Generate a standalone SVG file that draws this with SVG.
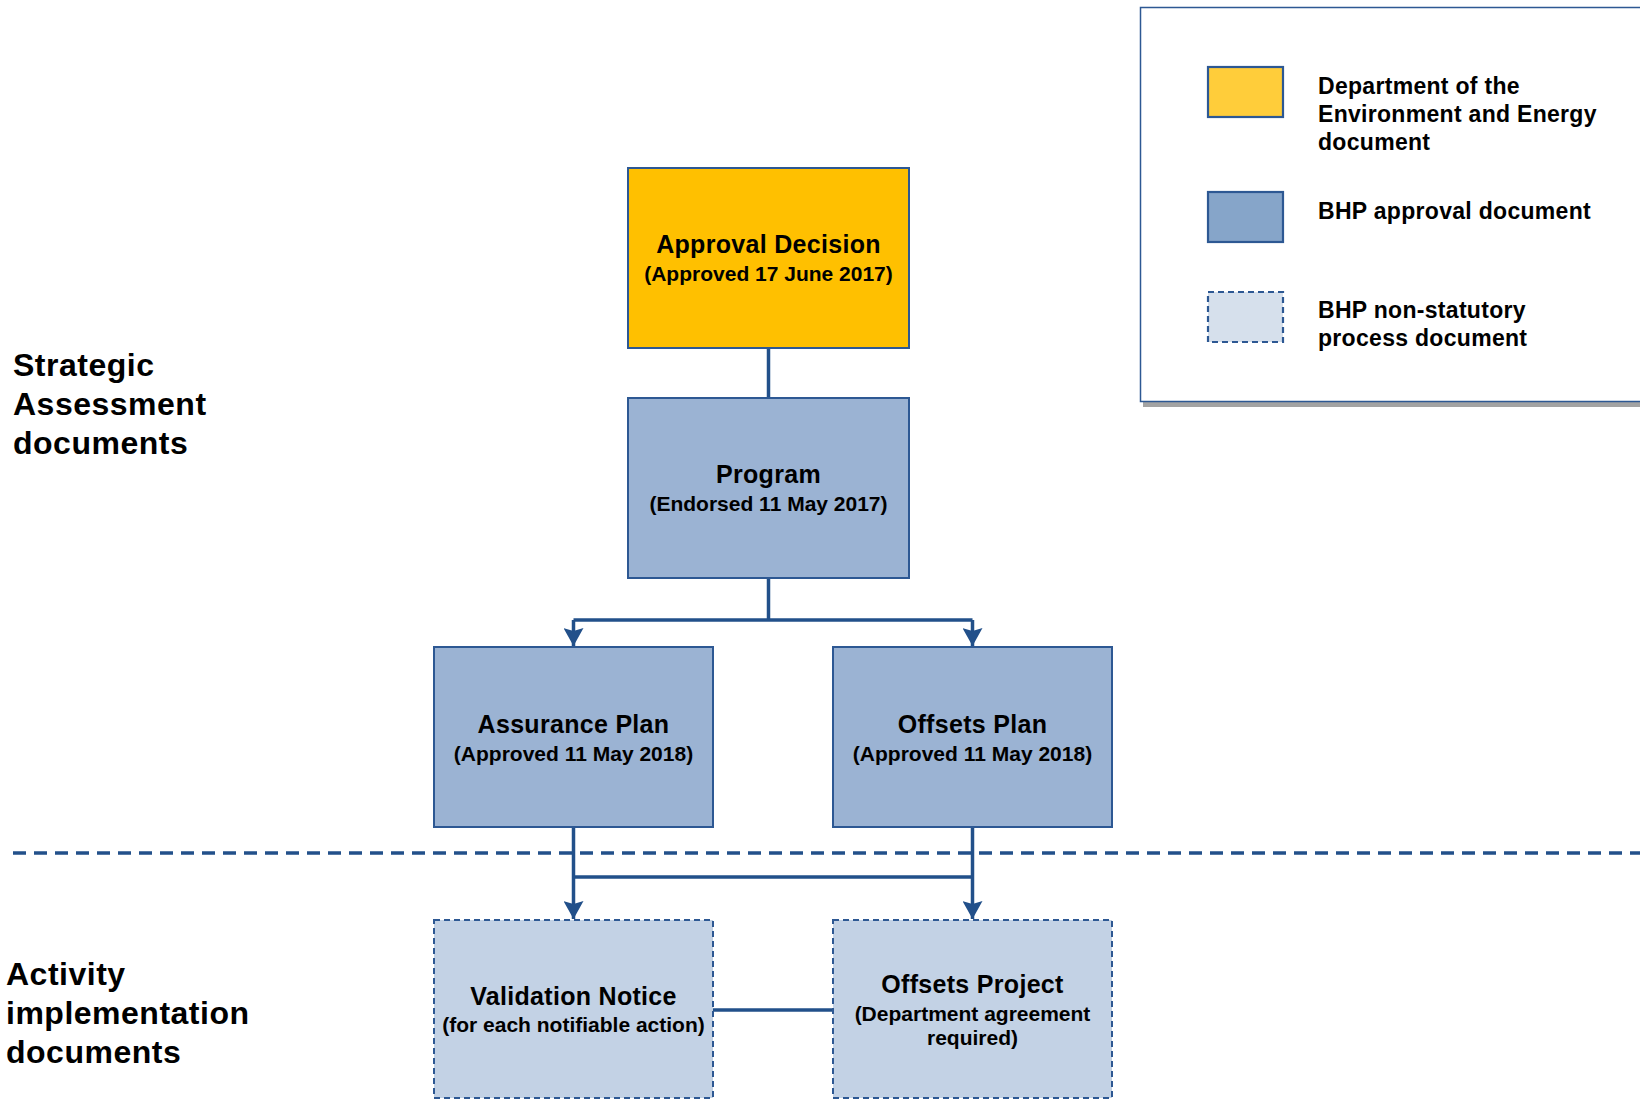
<svg xmlns="http://www.w3.org/2000/svg" width="1640" height="1099" viewBox="0 0 1640 1099">
<style>
text{font-family:"Liberation Sans",Arial,sans-serif;font-weight:bold;fill:#000}
.t{font-size:25px;text-anchor:middle;letter-spacing:0.3px}
.s{font-size:21px;text-anchor:middle}
.side{font-size:32px;letter-spacing:0.5px}
.leg{font-size:23px;letter-spacing:0.3px}
.solid{stroke:#2D5893;stroke-width:2}
.dash{stroke:#2D5893;stroke-width:2;stroke-dasharray:6 4}
.con{fill:none;stroke:#22508A;stroke-width:3.5}
</style>
<defs>
<marker id="ah" markerUnits="userSpaceOnUse" markerWidth="20" markerHeight="20" viewBox="0 0 20 20" refX="18" refY="10" orient="auto">
<path d="M0,0 L18,10 L0,20 L3,10 Z" fill="#22508A"/>
</marker>
</defs>
<rect width="1640" height="1099" fill="#fff"/>

<g id="legend">
<rect x="1143" y="401" width="500" height="6" fill="#a3a3a3"/>
<rect x="1140.5" y="7.5" width="510" height="394" fill="#fff" stroke="#2D5893" stroke-width="1.5"/>
<rect x="1208" y="67" width="75" height="50" fill="#FFCD3A" stroke="#2D5893" stroke-width="2.2"/>
<rect x="1208" y="192" width="75" height="50" fill="#86A5C9" stroke="#2D5893" stroke-width="2.2"/>
<rect x="1208" y="292" width="75" height="50" fill="#D6E0EC" stroke="#2D5893" stroke-width="2.2" stroke-dasharray="6 4"/>
<text class="leg" x="1318" y="94">Department of the</text>
<text class="leg" x="1318" y="122">Environment and Energy</text>
<text class="leg" x="1318" y="150">document</text>
<text class="leg" x="1318" y="219">BHP approval document</text>
<text class="leg" x="1318" y="318">BHP non-statutory</text>
<text class="leg" x="1318" y="346">process document</text>
</g>

<g id="section-labels">
<text class="side" x="13" y="376">Strategic</text>
<text class="side" x="13" y="415">Assessment</text>
<text class="side" x="13" y="454">documents</text>
<text class="side" x="6" y="985">Activity</text>
<text class="side" x="6" y="1024">implementation</text>
<text class="side" x="6" y="1063">documents</text>
</g>

<g id="connectors">
<line x1="13" y1="853" x2="1640" y2="853" stroke="#22508A" stroke-width="3.5" stroke-dasharray="13 8"/>
<path class="con" d="M768.5,348 V398"/>
<path class="con" d="M768.5,578 V620"/>
<path class="con" d="M573.5,620 H972.5"/>
<path class="con" d="M573.5,620 V646" marker-end="url(#ah)"/>
<path class="con" d="M972.5,620 V646" marker-end="url(#ah)"/>
<path class="con" d="M573.5,827 V919" marker-end="url(#ah)"/>
<path class="con" d="M972.5,827 V919" marker-end="url(#ah)"/>
<path class="con" d="M573.5,877 H972.5"/>
<path class="con" d="M713,1010 H833"/>
</g>

<g id="approval-decision">
<rect class="solid" x="628" y="168" width="281" height="180" fill="#FFC000"/>
<text class="t" x="768.5" y="253">Approval Decision</text>
<text class="s" x="768.5" y="281">(Approved 17 June 2017)</text>
</g>

<g id="program">
<rect class="solid" x="628" y="398" width="281" height="180" fill="#9BB3D3"/>
<text class="t" x="768.5" y="483">Program</text>
<text class="s" x="768.5" y="511">(Endorsed 11 May 2017)</text>
</g>

<g id="assurance-plan">
<rect class="solid" x="434" y="647" width="279" height="180" fill="#9BB3D3"/>
<text class="t" x="573.5" y="733">Assurance Plan</text>
<text class="s" x="573.5" y="761">(Approved 11 May 2018)</text>
</g>

<g id="offsets-plan">
<rect class="solid" x="833" y="647" width="279" height="180" fill="#9BB3D3"/>
<text class="t" x="972.5" y="733">Offsets Plan</text>
<text class="s" x="972.5" y="761">(Approved 11 May 2018)</text>
</g>

<g id="validation-notice">
<rect class="dash" x="434" y="920" width="279" height="178" fill="#C3D2E5"/>
<text class="t" x="573.5" y="1005">Validation Notice</text>
<text class="s" x="573.5" y="1032">(for each notifiable action)</text>
</g>

<g id="offsets-project">
<rect class="dash" x="833" y="920" width="279" height="178" fill="#C3D2E5"/>
<text class="t" x="972.5" y="993">Offsets Project</text>
<text class="s" x="972.5" y="1021">(Department agreement</text>
<text class="s" x="972.5" y="1045">required)</text>
</g>
</svg>
